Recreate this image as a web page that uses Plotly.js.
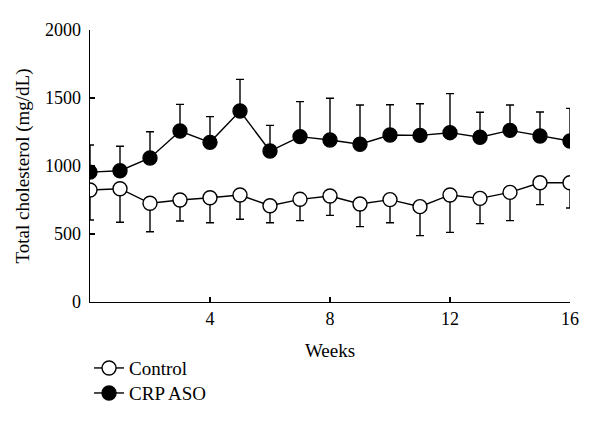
<!DOCTYPE html>
<html>
<head>
<meta charset="utf-8">
<script src="https://cdn.plot.ly/plotly-3.0.1.min.js"></script>
<style>html,body{margin:0;padding:0;background:#fff;}#chart{width:600px;height:427px;}</style>
</head>
<body>
<div id="chart"></div>
<script>
const weeks = [0,1,2,3,4,5,6,7,8,9,10,11,12,13,14,15,16];
const controlMean = [824,833,726,750,767,787,708,755,779,721,753,701,787,762,806,877,877];
const controlErrMinus = [221,247,209,154,184,179,125,157,142,167,170,213,275,186,208,161,186];
const crpMean = [955,965,1059,1257,1174,1404,1110,1216,1191,1160,1228,1225,1245,1211,1262,1221,1184];
const crpErrPlus = [199,180,193,196,189,233,189,257,307,289,222,233,287,184,187,176,240];
const xTicks = [4,8,12,16];
const yTicks = [0,500,1000,1500,2000];

const serif = '"Liberation Serif", "DejaVu Serif", serif';
const zeros = weeks.map(() => 0);

const control = {
  x: weeks, y: controlMean, name: 'Control', type: 'scatter', mode: 'lines+markers',
  legend: 'legend',
  line: {color: '#000', width: 1.4},
  marker: {symbol: 'circle', size: 14, color: '#fff', line: {color: '#000', width: 1.4}},
  error_y: {type: 'data', symmetric: false, array: zeros, arrayminus: controlErrMinus,
            color: '#000', thickness: 1.4, width: 4}
};
const crp = {
  x: weeks, y: crpMean, name: 'CRP ASO', type: 'scatter', mode: 'lines+markers',
  legend: 'legend2',
  line: {color: '#000', width: 1.4},
  marker: {symbol: 'circle', size: 14, color: '#000', line: {color: '#000', width: 1.4}},
  error_y: {type: 'data', symmetric: false, array: crpErrPlus, arrayminus: zeros,
            color: '#000', thickness: 1.4, width: 4}
};

const legendBase = {
  x: -0.002, xanchor: 'left', yanchor: 'middle',
  font: {family: serif, size: 19, color: '#000'},
  bgcolor: 'rgba(0,0,0,0)'
};

const layout = {
  width: 600, height: 427,
  margin: {l: 90, r: 30, t: 30, b: 125, autoexpand: false},
  paper_bgcolor: '#fff', plot_bgcolor: '#fff',
  font: {family: serif, size: 18, color: '#000'},
  showlegend: true,
  legend: Object.assign({}, legendBase, {y: -0.243}),
  legend2: Object.assign({}, legendBase, {y: -0.335}),
  xaxis: {
    range: [0, 16], tickvals: xTicks, ticktext: xTicks.map(String),
    ticks: 'inside', ticklen: 5, tickwidth: 1.4, tickcolor: '#000',
    showline: true, linecolor: '#000', linewidth: 1.4, showgrid: false, zeroline: false,
    tickfont: {family: serif, size: 18, color: '#000'},
    title: {text: 'Weeks', font: {family: serif, size: 19, color: '#000'}, standoff: 15}
  },
  yaxis: {
    range: [0, 2000], tickvals: yTicks, ticktext: yTicks.map(String),
    ticks: 'inside', ticklen: 5, tickwidth: 1.4, tickcolor: '#000',
    ticklabelstandoff: 4,
    showline: true, linecolor: '#000', linewidth: 1.4, showgrid: false, zeroline: false,
    tickfont: {family: serif, size: 18, color: '#000'},
    title: {text: 'Total cholesterol (mg/dL)', font: {family: serif, size: 19, color: '#000'}, standoff: 10}
  }
};

Plotly.newPlot('chart', [control, crp], layout, {displayModeBar: false, staticPlot: true});
</script>
</body>
</html>
